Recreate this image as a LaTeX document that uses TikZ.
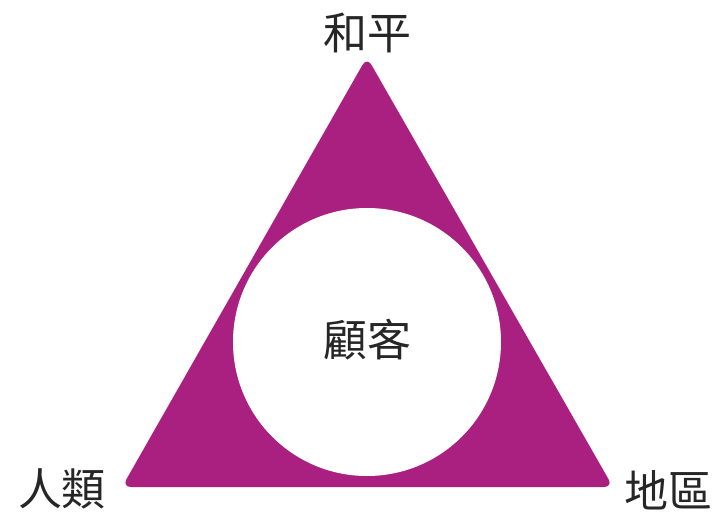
\documentclass[tikz,border=0pt]{standalone}
\usepackage{fontspec}
\newfontfamily\cjk{Noto Sans CJK TC}
\definecolor{mag}{RGB}{170,32,128}
\begin{document}
\begin{tikzpicture}[x=1pt,y=-1pt,
  lbl/.style={font=\cjk\fontsize{44}{44}\selectfont, text=black!85, inner sep=0pt}]
\useasboundingbox (0,0) rectangle (716,512);
\coordinate (t) at (367,57);
\coordinate (l) at (122,487);
\coordinate (r) at (613,487);
\fill[mag, rounded corners=9pt] (t) -- (r) -- (l) -- cycle;
\node[circle, fill=white, minimum size=268pt, inner sep=0pt] (c) at (367,342) {};
\node[lbl] (cust) at (367,340) {顧客};
\node[lbl] (peace) at (367,33) {和平};
\node[lbl] (human) at (62,489) {人類};
\node[lbl] (region) at (668,490) {地區};
\end{tikzpicture}
\end{document}
